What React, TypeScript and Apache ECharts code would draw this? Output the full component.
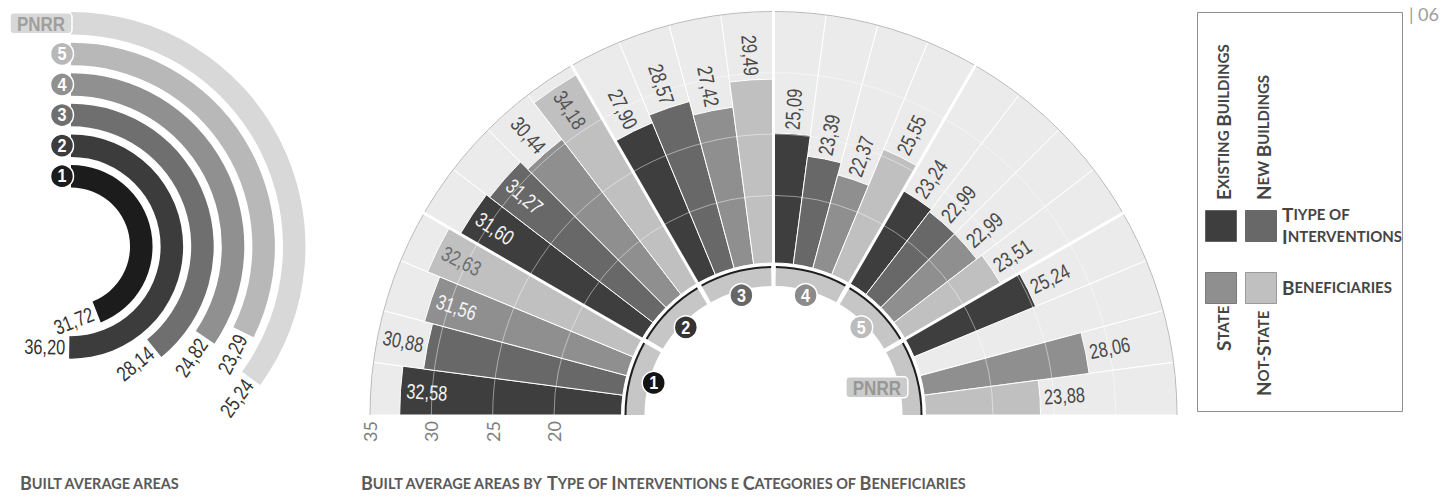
import React, { useEffect, useRef } from 'react';
import * as echarts from 'echarts';

// ---------- DATA ----------
const groups = ['1', '2', '3', '4', '5', 'PNRR'];
const types = ['Existing Buildings', 'New Buildings', 'State', 'Not-State'];
const existingBuildings = [32.58, 31.6, 27.9, 25.09, 23.24, 25.24];
const newBuildings: (number | null)[] = [30.88, 31.27, 28.57, 23.39, 22.99, null];
const stateBeneficiaries = [31.56, 30.44, 27.42, 22.37, 22.99, 28.06];
const notStateBeneficiaries = [32.63, 34.18, 29.49, 25.55, 23.51, 23.88];
const radialTicks = [20, 25, 30, 35];

const overallCategories = ['1', '2', '3', '4', '5', 'PNRR'];
const overallValues = [31.72, 36.2, 28.14, 24.82, 23.29, 25.24];

// [group, type] pairs whose value label sits inside the bar
const insideLabelPairs = [[0, 0], [0, 2], [0, 3], [1, 0], [1, 1], [1, 3]];

// ---------- STYLE ----------
const typeColors = ['#3e3e3e', '#686868', '#8f8f8f', '#c0c0c0'];
const groupMarkerColors = ['#141414', '#343434', '#676767', '#8b8b8b', '#bcbcbc', '#cbcbcb'];
const overallColors = ['#1c1c1c', '#3c3c3c', '#6f6f6f', '#909090', '#b8b8b8', '#d8d8d8'];
const NUM_FONT = '"Liberation Sans", Arial, sans-serif';
const CAPS_FONT = 'Lato, "Open Sans", sans-serif';

type Slot = { name: string; value: number | null; type: number; group: number; index: number };
const seriesByType = [existingBuildings, newBuildings, stateBeneficiaries, notStateBeneficiaries];
const slots: Slot[] = [];
groups.forEach((g, gi) =>
  types.forEach((t, ti) =>
    slots.push({ name: `${g} · ${t}`, value: seriesByType[ti][gi], type: ti, group: gi, index: slots.length })
  )
);
const labelSlots = slots.filter((s) => s.value != null);
const isInside = (s: Slot) => insideLabelPairs.some(([g, t]) => g === s.group && t === s.type);
const fmt = (v: number) => v.toFixed(2).replace('.', ',');

function caps(text: string): string {
  return text
    .split(' ')
    .map((w, i, arr) => {
      const sep = i < arr.length - 1 ? ' ' : '';
      const first = w[0];
      const rest = w.slice(1).toUpperCase() + sep;
      const big = first === first.toUpperCase() && /[A-Z]/.test(first);
      return big ? `{b|${first}}` + (rest ? `{s|${rest}}` : '') : `{s|${w.toUpperCase() + sep}}`;
    })
    .join('');
}

function capsRich(big: number, small: number, color: string) {
  return {
    b: { fontSize: big, fontWeight: 'bold', fontFamily: CAPS_FONT, fill: color },
    s: { fontSize: small, fontWeight: 'bold', fontFamily: CAPS_FONT, fill: color },
  };
}

export default function App() {
  const ref = useRef<HTMLDivElement>(null);
  useEffect(() => {
    const chart = echarts.init(ref.current!, null, { renderer: 'svg' });

    const legendColor = '#454545';
    const legendRich = capsRich(19, 15, legendColor);
    const titleRich = capsRich(18, 14.5, '#5a5a5a');

    const option: any = {
      animation: false,
      polar: [
        { center: [773.5, 415], radius: [152, 403.5] },
        { center: [71, 246.5], radius: [55, 238.5] },
      ],
      angleAxis: [
        {
          polarIndex: 0,
          type: 'category',
          data: slots.map((s) => s.name),
          startAngle: 180,
          endAngle: 0,
          clockwise: true,
          axisLine: { show: false },
          axisTick: { show: false },
          axisLabel: { show: false },
          splitLine: { show: false },
        },
        { polarIndex: 1, type: 'value', min: 0, max: 72, startAngle: 90, clockwise: true, show: false },
      ],
      radiusAxis: [
        {
          polarIndex: 0,
          type: 'value',
          min: 14.5,
          max: 35,
          z: 4,
          axisLine: { show: false },
          axisTick: { show: false, customValues: radialTicks },
          axisLabel: {
            customValues: radialTicks,
            rotate: 90,
            margin: 6,
            color: '#7d7d7d',
            fontSize: 18,
            fontFamily: CAPS_FONT,
          },
          splitLine: {
            show: true,
            lineStyle: {
              color: ['rgba(255,255,255,0.45)', 'rgba(255,255,255,0.45)', 'rgba(255,255,255,0.45)', '#b8b8b8'],
              width: 1,
            },
          },
        },
        { polarIndex: 1, type: 'category', data: overallCategories, show: false },
      ],
      series: [
        {
          name: 'background',
          type: 'bar',
          coordinateSystem: 'polar',
          polarIndex: 0,
          silent: true,
          z: 1,
          barCategoryGap: '0%',
          barGap: '-100%',
          data: slots.map(() => 35),
          itemStyle: { color: '#ebebeb', borderColor: '#ffffff', borderWidth: 1 },
        },
        {
          name: 'values',
          type: 'bar',
          coordinateSystem: 'polar',
          polarIndex: 0,
          silent: true,
          z: 2,
          barCategoryGap: '0%',
          barGap: '-100%',
          data: slots.map((s) =>
            s.value == null ? null : { value: s.value, itemStyle: { color: typeColors[s.type] } }
          ),
          itemStyle: { borderColor: '#ffffff', borderWidth: 1 },
        },
        {
          name: 'overall',
          type: 'bar',
          coordinateSystem: 'polar',
          polarIndex: 1,
          silent: true,
          barWidth: 22.5,
          data: overallValues.map((v, i) => ({ value: v, itemStyle: { color: overallColors[i] } })),
        },
        {
          name: 'groupBand',
          type: 'custom',
          coordinateSystem: 'polar',
          polarIndex: 0,
          silent: true,
          z: 5,
          data: groups.map((g, gi) => [14.5, gi * 4]),
          renderItem: (params: any, api: any) => {
            const cs = params.coordSys;
            const gi = params.dataIndex;
            const first = api.value(1);
            const angleAt = (idx: number) => {
              const p = api.coord([35, idx]);
              return Math.atan2(cs.cy - p[1], p[0] - cs.cx);
            };
            const a0 = angleAt(first);
            const a1 = angleAt(first + 1);
            const a3 = angleAt(first + 3);
            const half = (a0 - a1) / 2;
            const start = a0 + half;
            const end = a3 - half;
            const padS = gi === 0 ? 0 : 2.2 / 138;
            const padE = gi === groups.length - 1 ? 0 : 2.2 / 138;
            const mid = (start + end) / 2;
            const children: any[] = [
              {
                type: 'sector',
                shape: {
                  cx: cs.cx, cy: cs.cy, r0: cs.r0 - 23, r: cs.r0 - 4,
                  startAngle: -(start - padS), endAngle: -(end + padE), clockwise: true,
                },
                style: { fill: '#c6c6c6' },
              },
              {
                type: 'sector',
                shape: {
                  cx: cs.cx, cy: cs.cy, r0: cs.r0 - 5, r: cs.r0 - 3,
                  startAngle: -(start - padS), endAngle: -(end + padE), clockwise: true,
                },
                style: { fill: '#1e1e1e' },
              },
            ];
            if (gi > 0) {
              children.push({
                type: 'line',
                shape: {
                  x1: cs.cx + cs.r0 * Math.cos(start), y1: cs.cy - cs.r0 * Math.sin(start),
                  x2: cs.cx + (cs.r + 1) * Math.cos(start), y2: cs.cy - (cs.r + 1) * Math.sin(start),
                },
                style: { stroke: '#ffffff', lineWidth: 3 },
              });
            }
            const isP = groups[gi] === 'PNRR';
            const mr = isP ? cs.r0 - 45 : cs.r0 - 28;
            const mx = cs.cx + mr * Math.cos(mid);
            const my = cs.cy - mr * Math.sin(mid);
            if (isP) {
              children.push({
                type: 'rect',
                shape: { x: mx - 31, y: my - 10.5, width: 62, height: 21, r: 4 },
                style: { fill: groupMarkerColors[gi], stroke: '#ffffff', lineWidth: 1.5 },
              });
              children.push({
                type: 'text', x: mx, y: my + 0.5, scaleX: 0.85,
                style: { text: groups[gi], fill: '#979797', font: `bold 20px ${NUM_FONT}`, align: 'center', verticalAlign: 'middle' },
              });
            } else {
              children.push({
                type: 'circle',
                shape: { cx: mx, cy: my, r: 11.5 },
                style: { fill: groupMarkerColors[gi], stroke: '#ffffff', lineWidth: 1.5 },
              });
              children.push({
                type: 'text', x: mx, y: my + 0.5, scaleX: 0.9,
                style: { text: groups[gi], fill: '#ffffff', font: `bold 18px ${NUM_FONT}`, align: 'center', verticalAlign: 'middle' },
              });
            }
            return { type: 'group', children };
          },
        },
        {
          name: 'labels',
          type: 'custom',
          coordinateSystem: 'polar',
          polarIndex: 0,
          silent: true,
          z: 6,
          data: labelSlots.map((s) => [s.value, s.index]),
          renderItem: (params: any, api: any) => {
            const s = labelSlots[params.dataIndex];
            const cs = params.coordSys;
            const p = api.coord([api.value(0), api.value(1)]);
            const dx = p[0] - cs.cx;
            const dy = p[1] - cs.cy;
            const len = Math.hypot(dx, dy);
            const ux = dx / len;
            const uy = dy / len;
            const theta = (Math.atan2(-dy, dx) * 180) / Math.PI;
            const left = theta > 90;
            const inside = isInside(s);
            const gap = inside ? -6 : 4;
            const x = p[0] + ux * gap;
            const y = p[1] + uy * gap;
            const rot = left ? theta - 180 : theta;
            const align = left ? (inside ? 'left' : 'right') : inside ? 'right' : 'left';
            let fill = '#484848';
            if (inside) fill = s.type === 3 ? (s.group === 0 ? '#6e6e6e' : '#555555') : '#f4f4f4';
            return {
              type: 'text',
              x, y,
              rotation: (rot * Math.PI) / 180,
              scaleX: 0.78,
              style: { text: fmt(s.value as number), fill, font: `21px ${NUM_FONT}`, align, verticalAlign: 'middle' },
            };
          },
        },
        {
          name: 'overallLabels',
          type: 'custom',
          coordinateSystem: 'polar',
          polarIndex: 1,
          silent: true,
          z: 6,
          data: overallValues.map((v, i) => [i, v]),
          renderItem: (params: any, api: any) => {
            const i = params.dataIndex;
            const cs = params.coordSys;
            const p = api.coord([api.value(0), api.value(1)]);
            const s = api.coord([api.value(0), 0]);
            const th = Math.atan2(cs.cy - p[1], p[0] - cs.cx);
            const gap = 4;
            const x = p[0] + gap * Math.sin(th);
            const y = p[1] + gap * Math.cos(th);
            const rot = th + Math.PI / 2;
            const children: any[] = [
              {
                type: 'text', x, y, rotation: rot, scaleX: 0.78,
                style: { text: fmt(overallValues[i]), fill: '#333333', font: `21px ${NUM_FONT}`, align: 'right', verticalAlign: 'middle' },
              },
            ];
            if (overallCategories[i] === 'PNRR') {
              children.push({
                type: 'rect',
                shape: { x: s[0] - 61, y: s[1] - 10.5, width: 62, height: 21, r: 4 },
                style: { fill: overallColors[i], stroke: '#ffffff', lineWidth: 1.5 },
              });
              children.push({
                type: 'text', x: s[0] - 30, y: s[1] + 0.5, scaleX: 0.85,
                style: { text: 'PNRR', fill: '#9f9f9f', font: `bold 20px ${NUM_FONT}`, align: 'center', verticalAlign: 'middle' },
              });
            } else {
              children.push({
                type: 'circle',
                shape: { cx: s[0] - 9, cy: s[1], r: 11.5 },
                style: { fill: overallColors[i], stroke: '#ffffff', lineWidth: 1.5 },
              });
              children.push({
                type: 'text', x: s[0] - 9, y: s[1] + 0.5, scaleX: 0.9,
                style: { text: overallCategories[i], fill: '#ffffff', font: `bold 18px ${NUM_FONT}`, align: 'center', verticalAlign: 'middle' },
              });
            }
            return { type: 'group', children };
          },
        },
      ],
      graphic: [
        {
          type: 'rect', silent: true,
          shape: { x: 1197.5, y: 12.5, width: 205, height: 399 },
          style: { fill: 'none', stroke: '#8e8e8e', lineWidth: 1 },
        },
        {
          type: 'text', x: 1409, y: 14,
          style: { text: '| 06', fill: '#9c9c9c', font: `18px ${CAPS_FONT}`, verticalAlign: 'middle' },
        },
        { type: 'rect', shape: { x: 1205.5, y: 210.5, width: 31, height: 31 }, style: { fill: typeColors[0], stroke: '#555', lineWidth: 0.8 } },
        { type: 'rect', shape: { x: 1245.5, y: 210.5, width: 31, height: 31 }, style: { fill: typeColors[1], stroke: '#555', lineWidth: 0.8 } },
        { type: 'rect', shape: { x: 1205.5, y: 272.5, width: 31, height: 31 }, style: { fill: typeColors[2], stroke: '#666', lineWidth: 0.8 } },
        { type: 'rect', shape: { x: 1245.5, y: 272.5, width: 31, height: 31 }, style: { fill: typeColors[3], stroke: '#888', lineWidth: 0.8 } },
        {
          type: 'text', x: 1223, y: 200, rotation: Math.PI / 2,
          style: { text: caps(types[0]), rich: legendRich, align: 'left', verticalAlign: 'middle' },
        },
        {
          type: 'text', x: 1263, y: 200, rotation: Math.PI / 2,
          style: { text: caps(types[1]), rich: legendRich, align: 'left', verticalAlign: 'middle' },
        },
        {
          type: 'text', x: 1223, y: 351, rotation: Math.PI / 2,
          style: { text: caps(types[2]), rich: legendRich, align: 'left', verticalAlign: 'middle' },
        },
        {
          type: 'text', x: 1263, y: 396, rotation: Math.PI / 2,
          style: { text: '{b|N}{s|OT-}{b|S}{s|TATE}', rich: legendRich, align: 'left', verticalAlign: 'middle' },
        },
        {
          type: 'text', x: 1282, y: 214,
          style: { text: '{b|T}{s|IYPE OF}', rich: legendRich, align: 'left', verticalAlign: 'middle' },
        },
        {
          type: 'text', x: 1282, y: 236,
          style: { text: '{b|I}{s|NTERVENTIONS}', rich: legendRich, align: 'left', verticalAlign: 'middle' },
        },
        {
          type: 'text', x: 1282, y: 287,
          style: { text: '{b|B}{s|ENEFICIARIES}', rich: legendRich, align: 'left', verticalAlign: 'middle' },
        },
        {
          type: 'text', x: 20, y: 483,
          style: { text: '{b|B}{s|UILT AVERAGE AREAS}', rich: titleRich, align: 'left', verticalAlign: 'middle' },
        },
        {
          type: 'text', x: 361, y: 483,
          style: {
            text: '{b|B}{s|UILT AVERAGE AREAS BY }{b|T}{s|YPE OF }{b|I}{s|NTERVENTIONS E }{b|C}{s|ATEGORIES OF }{b|B}{s|ENEFICIARIES}',
            rich: titleRich,
            align: 'left',
            verticalAlign: 'middle',
          },
        },
      ],
    };

    chart.setOption(option);
    return () => chart.dispose();
  }, []);

  return (
    <div
      ref={ref}
      style={{ position: 'absolute', left: 0, top: 0, width: 1441, height: 498, background: '#ffffff' }}
    />
  );
}
